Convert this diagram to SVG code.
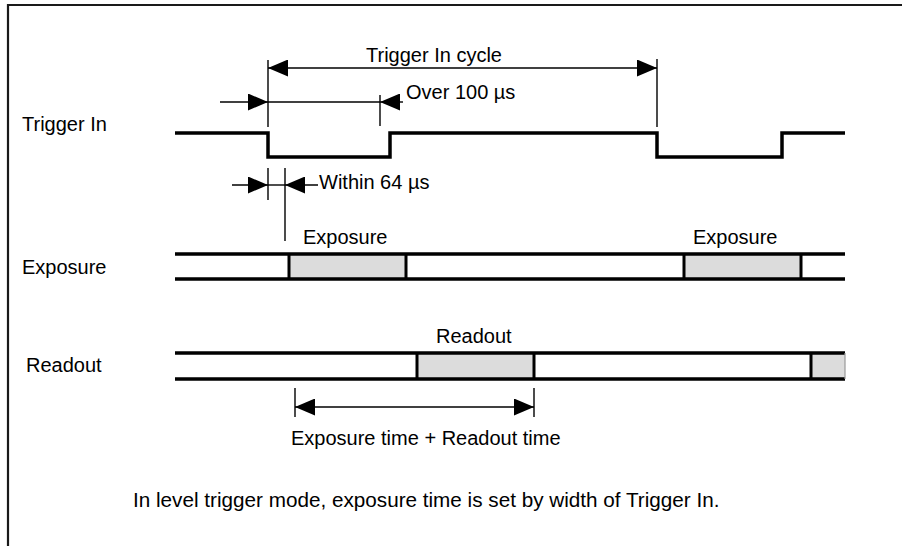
<svg xmlns="http://www.w3.org/2000/svg" width="902" height="546" viewBox="0 0 902 546">
<style>
text{font-family:"Liberation Sans",Arial,sans-serif;font-size:20px;fill:#000}
.sig{fill:none;stroke:#000;stroke-width:3.5;stroke-linecap:butt;stroke-linejoin:miter}
.thin{fill:none;stroke:#000;stroke-width:1.4}
.box{fill:#dcdcdc;stroke:none}
.edge{stroke:#000;stroke-width:3}
</style>
<defs>
<marker id="ah" markerUnits="userSpaceOnUse" markerWidth="20" markerHeight="17" refX="20" refY="8.5" orient="auto-start-reverse">
<path d="M0,0 L20,8.5 L0,17 z" fill="#000"/>
</marker>
</defs>
<rect width="902" height="546" fill="#fff"/>
<g id="frame">
<path d="M7,5 H902 M8,4 V546" fill="none" stroke="#1a1a1a" stroke-width="2.2"/>
</g>
<g id="trigger-in">
<text x="22" y="131">Trigger In</text>
<path class="sig" d="M175,133 H268 V157 H390 V133 H657 V157 H782 V133 H845"/>
</g>
<g id="exposure">
<text x="22" y="274">Exposure</text>
<rect class="box" x="288" y="254" width="119" height="24"/>
<rect class="box" x="683" y="254" width="119" height="24"/>
<path class="sig" d="M175,254 H845 M175,279 H845"/>
<path class="edge" d="M289,254 V279 M406,254 V279 M684,254 V279 M801,254 V279"/>
<text x="303" y="244">Exposure</text>
<text x="693" y="244">Exposure</text>
</g>
<g id="readout">
<text x="26" y="372">Readout</text>
<rect class="box" x="416" y="353" width="119" height="25"/>
<rect class="box" x="810" y="353" width="35" height="25"/>
<path class="sig" d="M175,353 H845 M175,379 H845"/>
<path class="edge" d="M417,353 V379 M534,353 V379 M811,353 V379"/>
<path d="M845,353 V379" stroke="#999" stroke-width="1.2"/>
<text x="436" y="343">Readout</text>
</g>
<g id="connectors">
<path class="thin" d="M268,60 V127 M657,59 V127"/>
<line class="thin" x1="268" y1="68" x2="657" y2="68" marker-start="url(#ah)" marker-end="url(#ah)"/>
<path class="thin" d="M380,95 V126"/>
<line class="thin" x1="220" y1="102" x2="268" y2="102" marker-end="url(#ah)"/>
<line class="thin" x1="268" y1="102" x2="380" y2="102"/>
<line class="thin" x1="403" y1="102" x2="380" y2="102" marker-end="url(#ah)"/>
<path class="thin" d="M268,168 V200 M285,168 V241"/>
<line class="thin" x1="232" y1="185" x2="268" y2="185" marker-end="url(#ah)"/>
<line class="thin" x1="268" y1="185" x2="285" y2="185"/>
<line class="thin" x1="318" y1="185" x2="285" y2="185" marker-end="url(#ah)"/>
<path class="thin" d="M295,388 V417 M534,388 V417"/>
<line class="thin" x1="295" y1="407" x2="534" y2="407" marker-start="url(#ah)" marker-end="url(#ah)"/>
</g>
<g id="labels">
<text x="366" y="62">Trigger In cycle</text>
<text x="406" y="99">Over 100 µs</text>
<text x="319" y="189">Within 64 µs</text>
<text x="291" y="445">Exposure time + Readout time</text>
<text x="133" y="507" style="font-size:20.7px">In level trigger mode, exposure time is set by width of Trigger In.</text>
</g>
</svg>
